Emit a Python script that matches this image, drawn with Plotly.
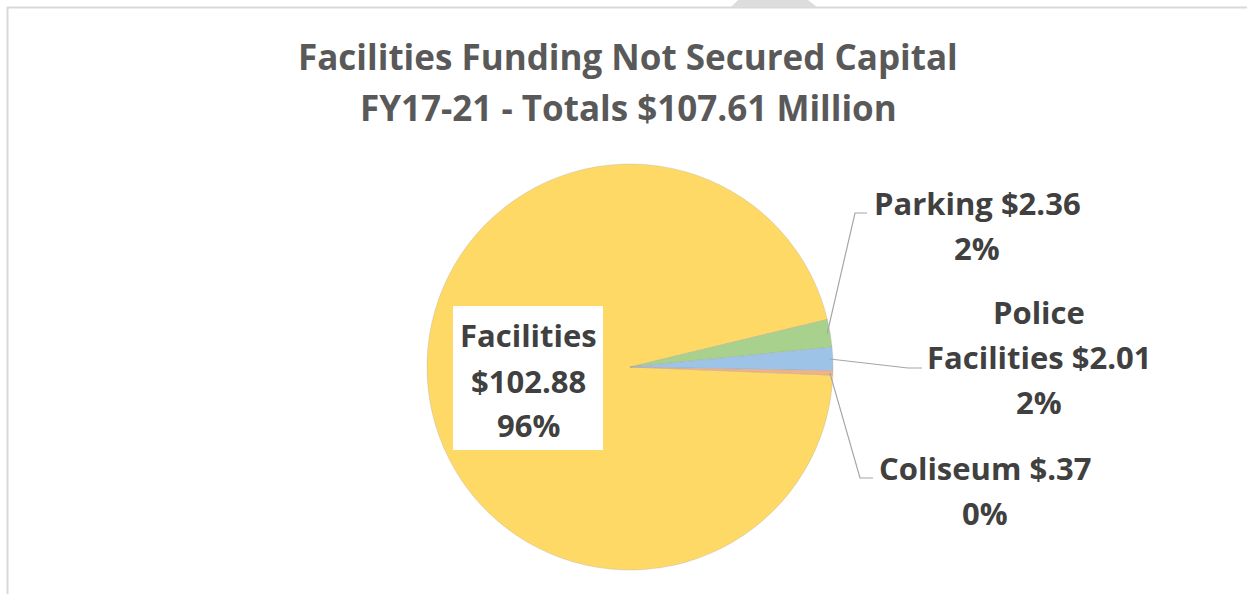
import math
import plotly.graph_objects as go

# ---- data ----
categories = ["Facilities", "Parking", "Police Facilities", "Coliseum"]
values = [102.88, 2.36, 2.01, 0.37]
value_labels = ["$102.88", "$2.36", "$2.01", "$.37"]
pct_labels = ["96%", "2%", "2%", "0%"]
colors = ["#FFD966", "#A9D18E", "#9DC3E6", "#F4B183"]
title_lines = ["Facilities Funding Not Secured Capital", "FY17-21 - Totals $107.61 Million"]

W, H = 1247, 594
CX, CY, R = 630, 367, 203
ROTATION = 92.3  # degrees clockwise from 12 o'clock where first slice starts

FONT = "Open Sans"
LABEL_COLOR = "#404040"
TITLE_COLOR = "#595959"


def px(x):
    return x / W


def py(y):
    return 1 - y / H


fig = go.Figure(go.Pie(
    labels=categories,
    values=values,
    marker=dict(colors=colors, line=dict(color="rgba(160,160,160,0.5)", width=0.6)),
    sort=False,
    direction="clockwise",
    rotation=ROTATION,
    textinfo="none",
    hoverinfo="label+value+percent",
    showlegend=False,
    domain=dict(x=[px(CX - R), px(CX + R)], y=[py(CY + R), py(CY - R)]),
))

# slice mid angles computed from the data
total = sum(values)
mid_pts = []
cum = 0.0
for v in values:
    mid_cw = ROTATION + (cum + v / 2) / total * 360
    theta = math.radians(90 - mid_cw)
    mid_pts.append((CX + R * 0.985 * math.cos(theta), CY - R * 0.985 * math.sin(theta)))
    cum += v

annotations = []
shapes = []


def add_lines(lines, cx, ys, size, color):
    for t, y in zip(lines, ys):
        annotations.append(dict(
            text=t, x=px(cx), y=py(y), xref="paper", yref="paper",
            xanchor="center", yanchor="middle", showarrow=False,
            font=dict(family=FONT, size=size, color=color, weight="bold"),
        ))


# title
add_lines(title_lines, 628, [57, 107], 35, TITLE_COLOR)

LS = 31
# Facilities label in white box
shapes.append(dict(type="rect", xref="paper", yref="paper",
                   x0=px(453), x1=px(603), y0=py(450), y1=py(306),
                   fillcolor="white", line=dict(width=0), layer="above"))
add_lines([categories[0], value_labels[0], pct_labels[0]], 528, [335, 381, 425], LS, LABEL_COLOR)

# outside labels
label_layout = {
    1: dict(lines=[f"{categories[1]} {value_labels[1]}", pct_labels[1]], cx=977, ys=[203, 248],
            elbow=[(855, 213), (867, 213)]),
    2: dict(lines=["Police", f"Facilities {value_labels[2]}", pct_labels[2]], cx=1039, ys=[312, 357, 402],
            elbow=[(908, 368), (922, 368)]),
    3: dict(lines=[f"{categories[3]} {value_labels[3]}", pct_labels[3]], cx=985, ys=[468, 513],
            elbow=[(860, 478), (873, 478)]),
}
for i, spec in label_layout.items():
    add_lines(spec["lines"], spec["cx"], spec["ys"], LS, LABEL_COLOR)
    pts = [mid_pts[i]] + spec["elbow"]
    path = "M " + " L ".join(f"{px(x):.5f},{py(y):.5f}" for x, y in pts)
    shapes.append(dict(type="path", xref="paper", yref="paper", path=path,
                       line=dict(color="#A6A6A6", width=1.2), layer="above"))

# chart frame (partial gray border) and top tab
shapes.append(dict(type="line", xref="paper", yref="paper", x0=px(7), x1=px(W), y0=py(7.5), y1=py(7.5),
                   line=dict(color="#D9D9D9", width=2)))
shapes.append(dict(type="line", xref="paper", yref="paper", x0=px(7.5), x1=px(7.5), y0=py(7), y1=py(H),
                   line=dict(color="#D9D9D9", width=2)))
shapes.append(dict(type="path", xref="paper", yref="paper",
                   path=f"M {px(731)},{py(7)} L {px(738)},{py(0)} L {px(808)},{py(0)} L {px(817)},{py(7)} Z",
                   fillcolor="#DDDDDD", line=dict(width=0)))

fig.update_layout(
    width=W, height=H,
    margin=dict(l=0, r=0, t=0, b=0),
    paper_bgcolor="white", plot_bgcolor="white",
    annotations=annotations, shapes=shapes,
)

fig.write_html("out.html", config={"displayModeBar": False},
               post_script="document.body.style.margin='0';document.body.style.overflow='hidden';")
